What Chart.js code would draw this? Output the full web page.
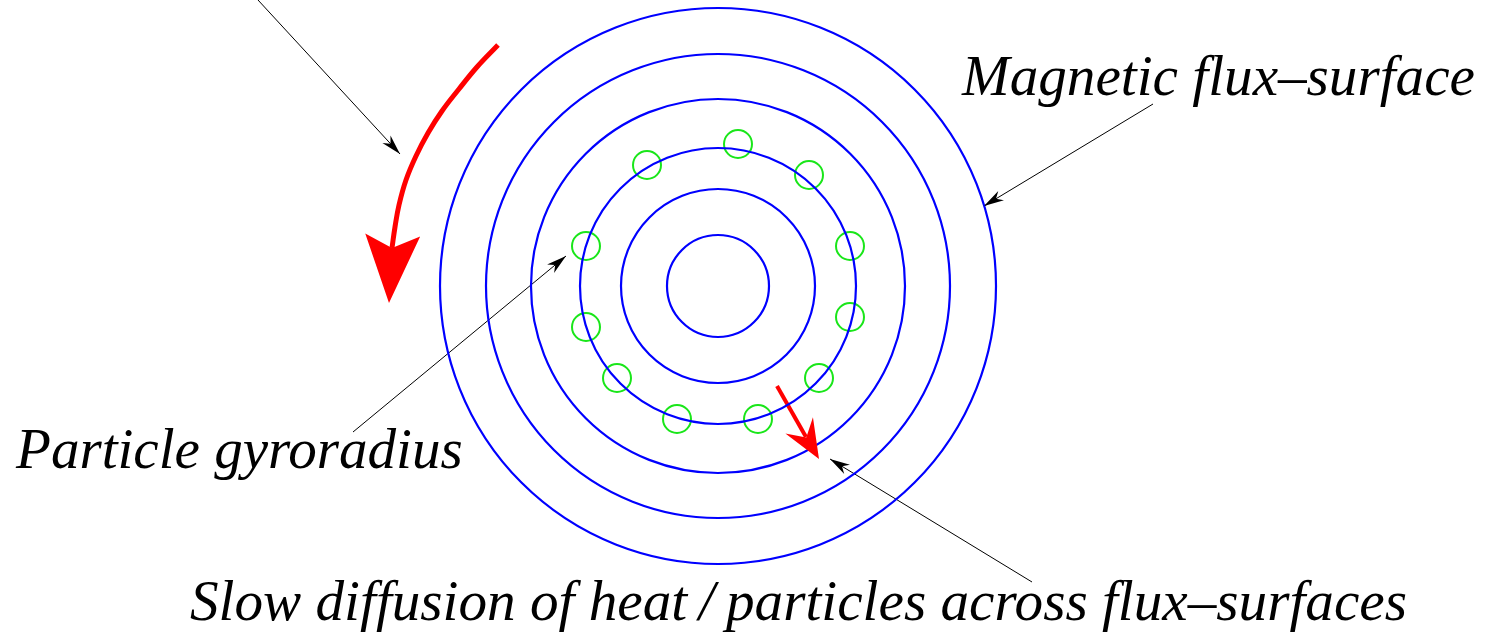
<!DOCTYPE html>
<html lang="en">
<head>
<meta charset="utf-8" />
<title>Flux surfaces</title>
<script src="https://cdn.jsdelivr.net/npm/chart.js@4/dist/chart.umd.min.js"></script>
<style>
	html, body { margin: 0; padding: 0; background: #fff; }
	#wrap { width: 1490px; height: 632px; }
</style>
</head>
<body>
<div id="wrap"><canvas id="chart"></canvas></div>
<script>
	// flux surfaces (concentric), centre + radii
	const centreX = 718;
	const centreY = 286;
	const fluxRadii = [51, 97, 138, 187, 232, 278];

	// gyro orbits sitting on the third surface
	const gyroX = [738, 647, 809, 586, 850, 586, 850, 617, 819, 677, 758];
	const gyroY = [144, 165, 175, 246, 246, 327, 317, 378, 378, 419, 419];
	const gyroRadius = 14;

	// big red rotation arrow
	const spinX = [498, 477, 459, 442, 428, 416, 406, 399, 395, 392];
	const spinY = [45, 67, 89, 111, 133, 156, 180, 205, 227, 248];
	const spinTip = [389, 303];

	// small red drift arrow
	const driftX = [777, 806];
	const driftY = [386, 437];
	const driftTip = [819, 459];

	// thin pointer lines: start x, start y, tip x, tip y
	const pointers = [
		[258, 0, 400, 154],
		[1153, 104, 984, 206],
		[353, 432, 566, 256],
		[1032, 582, 830, 459]
	];

	const labelTexts = [
		"Magnetic flux\u2013surface",
		"Particle gyroradius",
		"Slow diffusion of heat\u2009/\u2009particles across flux\u2013surfaces"
	];

	const toPts = (xs, ys) => xs.map((x, i) => ({ x: x, y: ys[i] }));

	// radius given in data units -> pixels via the x scale
	const radiusPx = (ctx) => {
		const s = ctx.chart.scales.x;
		if (!s || !ctx.raw) return 0;
		return s.getPixelForValue(ctx.raw.x + ctx.raw.r) - s.getPixelForValue(ctx.raw.x);
	};

	const datasets = [];
	datasets.push({
		label: 'flux',
		data: fluxRadii.map(r => ({ x: centreX, y: centreY, r: r })),
		pointRadius: radiusPx,
		pointBackgroundColor: 'rgba(0,0,0,0)',
		pointBorderColor: '#0000ff',
		pointBorderWidth: 2.2
	});
	datasets.push({
		label: 'gyro',
		data: gyroX.map((x, i) => ({ x: x, y: gyroY[i], r: gyroRadius })),
		pointRadius: radiusPx,
		pointBackgroundColor: 'rgba(0,0,0,0)',
		pointBorderColor: '#19e619',
		pointBorderWidth: 2
	});
	datasets.push({
		label: 'spin',
		data: toPts(spinX, spinY),
		showLine: true,
		tension: 0.4,
		borderColor: '#ff0000',
		borderWidth: 5,
		pointRadius: 0,
		head: { tip: spinTip, len: 68, half: 27.5, notch: 55, color: '#ff0000' }
	});
	datasets.push({
		label: 'drift',
		data: toPts(driftX, driftY),
		showLine: true,
		borderColor: '#ff0000',
		borderWidth: 4,
		pointRadius: 0,
		head: { tip: driftTip, len: 39, half: 16, notch: 25, color: '#ff0000' }
	});
	pointers.forEach((p, i) => {
		datasets.push({
			label: 'pointer' + i,
			data: [{ x: p[0], y: p[1] }, { x: p[2], y: p[3] }],
			showLine: true,
			borderColor: '#000',
			borderWidth: 1,
			pointRadius: 0,
			head: { tip: [p[2], p[3]], len: 20, half: 5.5, notch: 14, color: '#000' }
		});
	});

	const labelPlacing = [
		{ x: 962, y: 95, w: 513 },
		{ x: 16, y: 468, w: 447 },
		{ x: 190, y: 620, w: 1218 }
	];

	const decorations = {
		id: 'decorations',
		afterDatasetsDraw(chart) {
			const ctx = chart.ctx;
			const sx = chart.scales.x, sy = chart.scales.y;
			ctx.save();
			chart.data.datasets.forEach(ds => {
				if (!ds.head) return;
				const h = ds.head;
				const tx = sx.getPixelForValue(h.tip[0]), ty = sy.getPixelForValue(h.tip[1]);
				// direction: from the last point that is not the tip itself
				let k = ds.data.length - 1;
				let fx = sx.getPixelForValue(ds.data[k].x), fy = sy.getPixelForValue(ds.data[k].y);
				if (fx === tx && fy === ty && k > 0) {
					k--;
					fx = sx.getPixelForValue(ds.data[k].x);
					fy = sy.getPixelForValue(ds.data[k].y);
				}
				let ux = tx - fx, uy = ty - fy;
				const d = Math.hypot(ux, uy);
				if (d === 0) return;
				ux /= d; uy /= d;
				const nx = -uy, ny = ux;
				ctx.fillStyle = h.color;
				ctx.beginPath();
				ctx.moveTo(tx, ty);
				ctx.lineTo(tx - ux * h.len + nx * h.half, ty - uy * h.len + ny * h.half);
				ctx.lineTo(tx - ux * h.notch, ty - uy * h.notch);
				ctx.lineTo(tx - ux * h.len - nx * h.half, ty - uy * h.len - ny * h.half);
				ctx.closePath();
				ctx.fill();
			});

			ctx.fillStyle = '#000';
			ctx.textBaseline = 'alphabetic';
			ctx.textAlign = 'left';
			labelTexts.forEach((t, i) => {
				const lp = labelPlacing[i];
				ctx.font = 'italic 48px "Liberation Serif"';
				const m = ctx.measureText(t).width;
				const size = 48 * lp.w / m;
				ctx.font = 'italic ' + size.toFixed(1) + 'px "Liberation Serif"';
				ctx.fillText(t, sx.getPixelForValue(lp.x), sy.getPixelForValue(lp.y));
			});
			ctx.restore();
		}
	};

	new Chart(document.getElementById('chart'), {
		type: 'scatter',
		data: { datasets: datasets },
		options: {
			responsive: true,
			maintainAspectRatio: false,
			animation: false,
			events: [],
			layout: { padding: 0 },
			scales: {
				x: { type: 'linear', min: 0, max: 1490, display: false },
				y: { type: 'linear', min: 0, max: 632, reverse: true, display: false }
			},
			plugins: {
				legend: { display: false },
				tooltip: { enabled: false }
			}
		},
		plugins: [decorations]
	});
</script>
</body>
</html>
